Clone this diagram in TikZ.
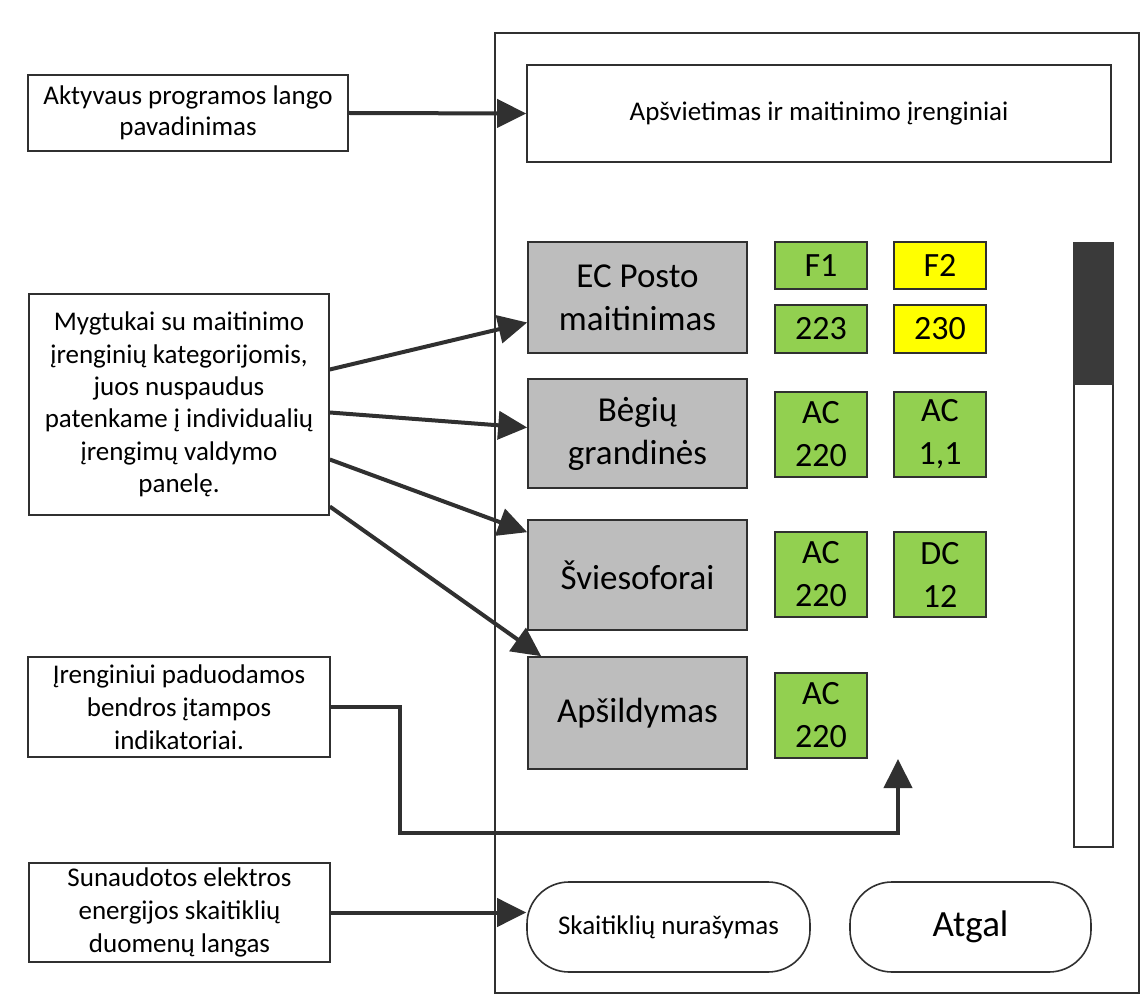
\documentclass[tikz,border=0pt]{standalone}
\usepackage{fontspec}
\setmainfont{Carlito}
\usetikzlibrary{arrows.meta,calc}
\definecolor{ink}{HTML}{303030}
\definecolor{btngrey}{HTML}{BDBDBD}
\definecolor{okgreen}{HTML}{92D050}
\definecolor{warnyellow}{HTML}{FFFF00}
\begin{document}
\begin{tikzpicture}[x=1pt,y=-1pt,
  every node/.style={inner sep=0pt, align=center, text=black},
  note/.style={draw=ink, line width=1.6pt, fill=white, font=\fontsize{27}{33}\selectfont},
  catbtn/.style={draw=ink, line width=1.6pt, fill=btngrey, minimum width=219pt,
    font=\fontsize{35}{43}\selectfont},
  ind/.style={draw=ink, line width=1.4pt, minimum width=92pt, font=\fontsize{34}{43}\selectfont},
  okind/.style={ind, fill=okgreen},
  warnind/.style={ind, fill=warnyellow},
  pill/.style={draw=ink, line width=1.6pt, fill=white, rounded corners=42pt,
    minimum height=90pt},
  link/.style={draw=ink, line width=4pt,
    -{Triangle[length=29pt,width=28pt]}},
]
\useasboundingbox (0,0) rectangle (1144,1008);
\fill[white] (0,0) rectangle (1144,1008);

% main application window
\node[draw=ink, line width=1.6pt, minimum width=644pt, minimum height=960pt] (panel) at (817,513) {};
\node[draw=ink, line width=1.6pt, minimum width=584pt, minimum height=97pt,
  font=\fontsize{27}{33}\selectfont] (title) at (819,113.5) {Apšvietimas ir maitinimo įrenginiai};

% category buttons
\node[catbtn, minimum height=111pt] (ec)  at (637.5,297.5) {EC Posto\\maitinimas};
\node[catbtn, minimum height=109pt] (beg) at (637.5,433.5) {Bėgių\\grandinės};
\node[catbtn, minimum height=110pt] (svi) at (637.5,575)   {Šviesoforai};
\node[catbtn, minimum height=112pt] (aps) at (637.5,713)   {Apšildymas};

% voltage indicators
\node[okind,   minimum height=47pt] (f1)   at (821,265.5) {F1};
\node[warnind, minimum height=47pt] (f2)   at (940,265.5) {F2};
\node[okind,   minimum height=48pt] (v223) at (821,329)   {223};
\node[warnind, minimum height=48pt] (v230) at (940,329)   {230};
\node[okind,   minimum height=85pt] (acA)  at (821,434.5) {AC\\220};
\node[okind,   minimum height=85pt] (acB)  at (940,434.5) {AC\\1,1};
\node[okind,   minimum height=85pt] (acC)  at (821,574.5) {AC\\220};
\node[okind,   minimum height=85pt] (dcA)  at (940,574.5) {DC\\12};
\node[okind,   minimum height=85pt] (acD)  at (821,715.5) {AC\\220};

% scroll bar
\node[draw=ink, line width=1.6pt, minimum width=39pt, minimum height=604pt] (scroll) at (1093.5,545) {};
\fill[ink!95] (scroll.north west) rectangle ($(scroll.north east)+(0,143)$);

% bottom buttons
\node[pill, minimum width=283pt, font=\fontsize{27}{33}\selectfont] (meter) at (668.5,927) {Skaitiklių nurašymas};
\node[pill, minimum width=241pt, font=\fontsize{37}{44}\selectfont] (back)  at (970.5,927) {Atgal};

% explanatory notes
\node[note, minimum width=320pt, minimum height=76pt,
  font=\fontsize{27}{31}\selectfont] (akt) at (188,113)
  {Aktyvaus programos lango\\pavadinimas};
\node[note, minimum width=300pt, minimum height=221pt,
  font=\fontsize{27}{32.3}\selectfont] (myg) at (179,404.5)
  {Mygtukai su maitinimo\\įrenginių kategorijomis,\\juos nuspaudus\\patenkame į individualių\\įrengimų valdymo\\panelę.};
\node[note, minimum width=302pt, minimum height=100pt] (ireng) at (179,707)
  {Įrenginiui paduodamos\\bendros įtampos\\indikatoriai.};
\node[note, minimum width=301pt, minimum height=99pt] (sun) at (179.5,912.5)
  {Sunaudotos elektros\\energijos skaitiklių\\duomenų langas};

% connectors
\draw[link] (akt.east) -- (title.west);
\draw[link] ([yshift=35pt]myg.east)  -- ([yshift=-25pt]ec.west);
\draw[link] ([yshift=-8pt]myg.east)  -- ([yshift=6pt]beg.west);
\draw[link] ([yshift=-55pt]myg.east) -- ([yshift=-13pt]svi.north west);
\draw[link] ([yshift=-102pt]myg.east) -- ([xshift=14pt]aps.north west);
\coordinate (bend) at (400,833);
\coordinate (indtip) at (898,759);
\draw[link] (ireng.east) -| (bend) -| (indtip);
\draw[link] (sun.east) -- (sun.east -| meter.west);
\end{tikzpicture}
\end{document}
